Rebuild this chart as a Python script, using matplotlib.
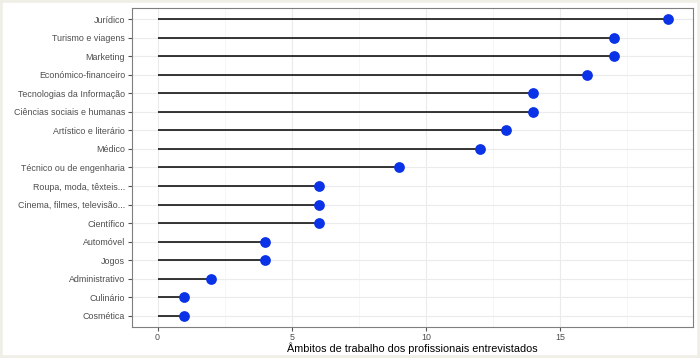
import matplotlib.pyplot as plt
from matplotlib.patches import Rectangle
from matplotlib.ticker import MultipleLocator

plt.rcParams['font.family'] = ['Liberation Sans', 'DejaVu Sans']

categorias = [
    "Jurídico", "Turismo e viagens", "Marketing", "Económico-financeiro",
    "Tecnologias da Informação", "Ciências sociais e humanas",
    "Artístico e literário", "Médico", "Técnico ou de engenharia",
    "Roupa, moda, têxteis...", "Cinema, filmes, televisão...", "Científico",
    "Automóvel", "Jogos", "Administrativo", "Culinário", "Cosmética",
]
valores = [19, 17, 17, 16, 14, 14, 13, 12, 9, 6, 6, 6, 4, 4, 2, 1, 1]

fig = plt.figure(figsize=(7, 3.58), dpi=100)
fig.patch.set_facecolor("white")
fig.patches.append(Rectangle((0, 0), 1, 1, transform=fig.transFigure,
                             fill=False, edgecolor="#efefe8", linewidth=4))

ax = fig.add_axes([0.1886, 0.0866, 0.8014, 0.8911])

y = list(range(len(categorias)))[::-1]
ax.hlines(y, 0, valores, color="black", linewidth=1.1, zorder=2)
ax.scatter(valores, y, s=60, color="#0a32e6", zorder=3, linewidths=0)

ax.set_xlim(-0.95, 19.95)
ax.set_ylim(-0.6, len(categorias) - 0.4)
ax.set_yticks(y)
ax.set_yticklabels(categorias)
ax.xaxis.set_major_locator(MultipleLocator(5))
ax.xaxis.set_minor_locator(MultipleLocator(2.5))

ax.grid(which="major", color="#ebebeb", linewidth=0.8, zorder=0)
ax.grid(which="minor", axis="x", color="#f3f3f3", linewidth=0.5, zorder=0)
ax.set_axisbelow(True)

for s in ax.spines.values():
    s.set_color("#7f7f7f")
    s.set_linewidth(0.8)

ax.tick_params(axis="both", which="major", length=3, color="#555555",
               labelcolor="#4d4d4d", labelsize=6.4, pad=2)
ax.tick_params(axis="x", which="major", pad=1.5)
ax.tick_params(axis="x", which="minor", length=0)

ax.set_xlabel("Âmbitos de trabalho dos profissionais entrevistados",
              fontsize=7.8, labelpad=0.5)

fig.savefig("out.png", dpi=100)
